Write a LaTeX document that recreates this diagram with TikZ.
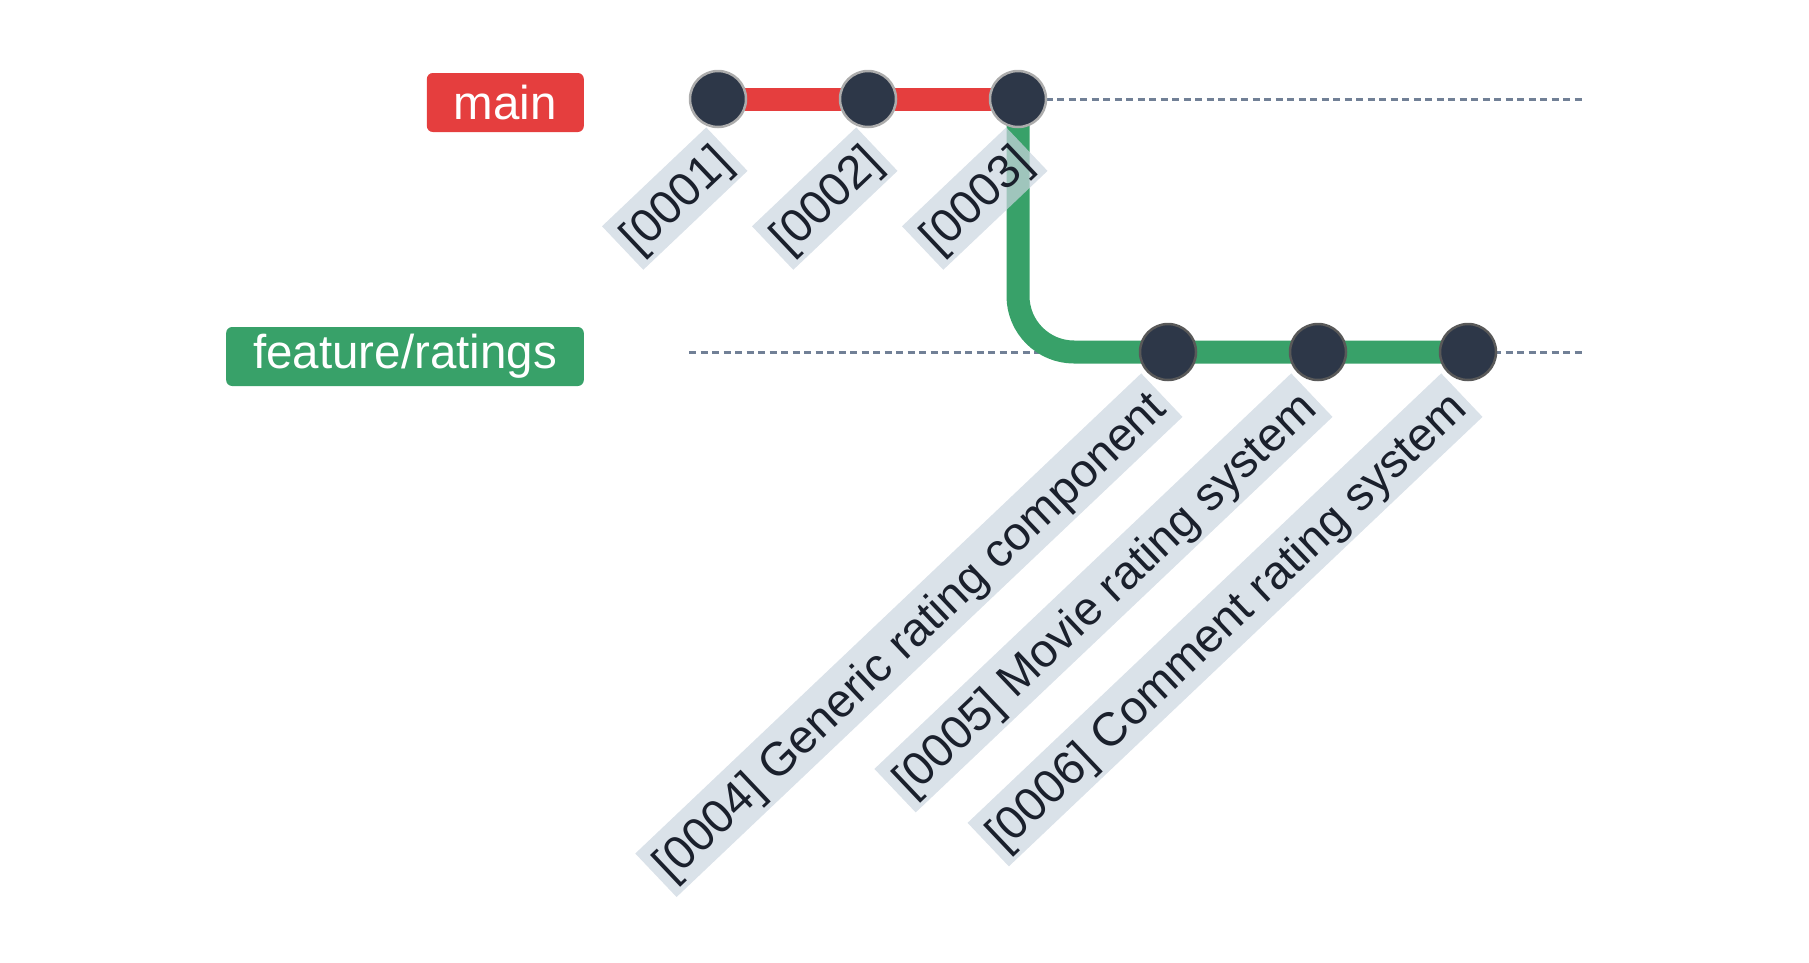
\documentclass[tikz,border=0pt]{standalone}
\usepackage{fontspec}
\setmainfont{Liberation Sans}
\usetikzlibrary{positioning}
\usetikzlibrary{backgrounds}

\definecolor{mainred}{HTML}{E53E3E}
\definecolor{featgreen}{HTML}{38A169}
\definecolor{commitfill}{HTML}{2D3748}
\definecolor{guidegray}{HTML}{718096}
\definecolor{msgbg}{HTML}{CBD5E0}
\definecolor{msgtext}{HTML}{1A202C}

\tikzset{
	commit/.style = {circle, fill = commitfill, minimum size = 56pt, inner sep = 0pt, line width = 2.5pt},
	branchtag/.style = {rounded corners = 6pt, text = white, minimum height = 59pt, inner xsep = 27pt, anchor = east, font = \fontsize{47.5}{50}\selectfont},
	msg/.style = {fill = msgbg, fill opacity = 0.7, text opacity = 1, text = msgtext, rotate = 43.5, anchor = east, inner xsep = 6.5pt, inner ysep = 2.5pt, text height = 44pt, text depth = 11pt, font = \fontsize{47}{50}\selectfont},
	guide/.style = {guidegray, line width = 3pt, dash pattern = on 7pt off 4.5pt},
	branchline/.style = {line width = 23pt}
}

\begin{document}
\begin{tikzpicture}[x = 1pt, y = -1pt]
					\useasboundingbox (0, 0) rectangle (1809, 962);
					\node [branchtag, fill = mainred] (mainTag) at (584, 102.5) {main};
					\node [branchtag, fill = featgreen] (featTag) at (584, 356.5) {feature/ratings};
					\node [commit, draw = gray!65] (c1) at (718, 99) {};
					\node [commit, draw = gray!65] (c2) at (868, 99) {};
					\node [commit, draw = gray!65] (c3) at (1018, 99) {};
					\node [commit, draw = black!65] (c4) at (1168, 352) {};
					\node [commit, draw = black!65] (c5) at (1318, 352) {};
					\node [commit, draw = black!65] (c6) at (1468, 352) {};
					\coordinate (mainStart) at (689, 99);
					\coordinate (mainEnd) at (1583, 99);
					\coordinate (featStart) at (689, 352);
					\coordinate (featEnd) at (1583, 352);
					\begin{scope}[on background layer]
						\draw [guide] (mainStart) -- (mainEnd);
						\draw [guide] (featStart) -- (featEnd);
						\draw [mainred, branchline] (c1.center) -- (c2.center) -- (c3.center);
						\draw [featgreen, branchline, rounded corners = 56pt] (c3.center) |- (c4.center) -- (c5.center) -- (c6.center);
					\end{scope}
					\node [msg] (m1) at ([shift = {(9, 50)}] c1) {[0001]};
					\node [msg] (m2) at ([shift = {(9, 50)}] c2) {[0002]};
					\node [msg] (m3) at ([shift = {(9, 50)}] c3) {[0003]};
					\node [msg] (m4) at ([shift = {(-6, 43)}] c4) {[0004] Generic rating component};
					\node [msg] (m5) at ([shift = {(-6, 43)}] c5) {[0005] Movie rating system};
					\node [msg] (m6) at ([shift = {(-6, 43)}] c6) {[0006] Comment rating system};
				\end{tikzpicture}
\end{document}
